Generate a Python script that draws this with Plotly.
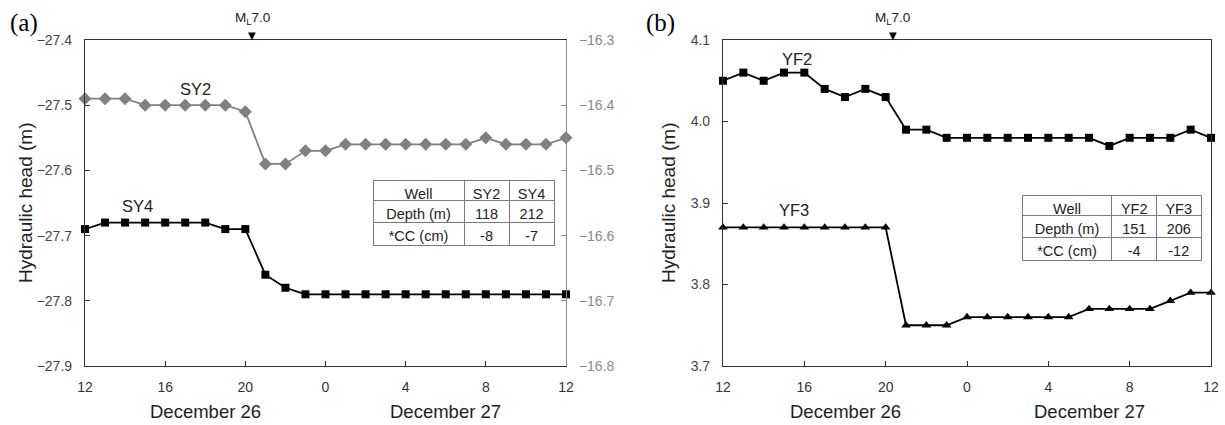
import plotly.graph_objects as go

# ---------------- data ----------------
hours = list(range(25))  # hours since 12:00 on December 26
tick_vals = [0, 4, 8, 12, 16, 20, 24]
tick_text = ["12", "16", "20", "0", "4", "8", "12"]
quake_hour = 8.35  # ML 7.0 at ~20:20

sy2 = [-16.39, -16.39, -16.39, -16.40, -16.40, -16.40, -16.40, -16.40, -16.41,
       -16.49, -16.49, -16.47, -16.47, -16.46, -16.46, -16.46, -16.46, -16.46,
       -16.46, -16.46, -16.45, -16.46, -16.46, -16.46, -16.45]
sy4 = [-27.69, -27.68, -27.68, -27.68, -27.68, -27.68, -27.68, -27.69, -27.69,
       -27.76, -27.78, -27.79, -27.79, -27.79, -27.79, -27.79, -27.79, -27.79,
       -27.79, -27.79, -27.79, -27.79, -27.79, -27.79, -27.79]
yf2 = [4.05, 4.06, 4.05, 4.06, 4.06, 4.04, 4.03, 4.04, 4.03, 3.99, 3.99, 3.98,
       3.98, 3.98, 3.98, 3.98, 3.98, 3.98, 3.98, 3.97, 3.98, 3.98, 3.98, 3.99, 3.98]
yf3 = [3.87, 3.87, 3.87, 3.87, 3.87, 3.87, 3.87, 3.87, 3.87, 3.75, 3.75, 3.75,
       3.76, 3.76, 3.76, 3.76, 3.76, 3.76, 3.77, 3.77, 3.77, 3.77, 3.78, 3.79, 3.79]

left_ticks_a = [-27.9, -27.8, -27.7, -27.6, -27.5, -27.4]
right_ticks_a = [-16.8, -16.7, -16.6, -16.5, -16.4, -16.3]
ticks_b = [3.7, 3.8, 3.9, 4.0, 4.1]

table_a_header = ["Well", "SY2", "SY4"]
table_a_cells = [["Depth (m)", "*CC (cm)"], ["118", "-8"], ["212", "-7"]]
table_b_header = ["Well", "YF2", "YF3"]
table_b_cells = [["Depth (m)", "*CC (cm)"], ["151", "-4"], ["206", "-12"]]

# ---------------- layout helpers ----------------
W, H = 1225, 425
FONT = "Liberation Sans, Arial, sans-serif"
SERIF = "Liberation Serif, Times New Roman, serif"
def px_x(p): return p / W
def px_y(p): return 1 - p / H

y_dom = [px_y(366), px_y(40)]
xa_dom = [px_x(85), px_x(566)]
xb_dom = [px_x(723), px_x(1211)]

fig = go.Figure()

fig.add_trace(go.Scatter(x=hours, y=sy2, xaxis="x", yaxis="y2", mode="lines+markers",
                         line=dict(color="#808080", width=1.8),
                         marker=dict(symbol="diamond", size=10, color="#808080"),
                         cliponaxis=False, showlegend=False))
fig.add_trace(go.Scatter(x=hours, y=sy4, xaxis="x", yaxis="y", mode="lines+markers",
                         line=dict(color="black", width=1.8),
                         marker=dict(symbol="square", size=8, color="black"),
                         cliponaxis=False, showlegend=False))
fig.add_trace(go.Scatter(x=hours, y=yf2, xaxis="x2", yaxis="y3", mode="lines+markers",
                         line=dict(color="black", width=1.8),
                         marker=dict(symbol="square", size=8, color="black"),
                         cliponaxis=False, showlegend=False))
fig.add_trace(go.Scatter(x=hours, y=yf3, xaxis="x2", yaxis="y3", mode="lines+markers",
                         line=dict(color="black", width=1.8),
                         marker=dict(symbol="triangle-up", size=8.5, color="black"),
                         cliponaxis=False, showlegend=False))

def tbl(header, cells, x0, x1, y0, y1):
    return go.Table(
        domain=dict(x=[px_x(x0), px_x(x1)], y=[px_y(y1), px_y(y0)]),
        columnwidth=[91, 45, 45],
        header=dict(values=header, height=20, fill_color="white",
                    line=dict(color="#7a7a7a", width=1), align="center",
                    font=dict(family=FONT, size=14.5, color="#222")),
        cells=dict(values=cells, height=22.5, fill_color="white",
                   line=dict(color="#7a7a7a", width=1), align="center",
                   font=dict(family=FONT, size=14.5, color="#222")),
    )

fig.add_trace(tbl(table_a_header, table_a_cells, 373, 554, 180, 252))
fig.add_trace(tbl(table_b_header, table_b_cells, 1022, 1202, 195, 267))

xcommon = dict(range=[0, 24], tickvals=tick_vals, ticktext=tick_text, ticks="inside",
               ticklen=5, tickcolor="#333", showline=True, linecolor="#333", linewidth=1.2,
               mirror=True, showgrid=False, zeroline=False, ticklabelstandoff=8,
               automargin=False, tickfont=dict(family=FONT, size=14, color="#333"))
ycommon = dict(ticks="inside", ticklen=5, showline=True, linewidth=1.2, showgrid=False,
               zeroline=False, tickformat=".1f", ticklabelstandoff=9, automargin=False)

fig.update_layout(
    width=W, height=H, margin=dict(l=0, r=0, t=0, b=0, pad=0, autoexpand=False),
    paper_bgcolor="white", plot_bgcolor="white",
    font=dict(family=FONT),
    xaxis=dict(domain=xa_dom, anchor="y", **xcommon),
    yaxis=dict(domain=y_dom, anchor="x", range=[-27.9, -27.4], tickvals=left_ticks_a,
               linecolor="#333", tickcolor="#333",
               tickfont=dict(family=FONT, size=14, color="#444"), **ycommon),
    yaxis2=dict(overlaying="y", side="right", anchor="x", range=[-16.8, -16.3],
                tickvals=right_ticks_a, linecolor="#8a8a8a", tickcolor="#8a8a8a",
                tickfont=dict(family=FONT, size=14, color="#8a8a8a"), **ycommon),
    xaxis2=dict(domain=xb_dom, anchor="y3", **xcommon),
    yaxis3=dict(domain=y_dom, anchor="x2", range=[3.7, 4.1], tickvals=ticks_b,
                linecolor="#333", tickcolor="#333", mirror=True,
                tickfont=dict(family=FONT, size=14, color="#444"), **ycommon),
)

ann = []
# panel letters
ann.append(dict(text="(a)", x=px_x(8), y=px_y(23), xref="paper", yref="paper",
                xanchor="left", yanchor="middle", showarrow=False,
                font=dict(family=SERIF, size=25, color="black")))
ann.append(dict(text="(b)", x=px_x(644), y=px_y(23), xref="paper", yref="paper",
                xanchor="left", yanchor="middle", showarrow=False,
                font=dict(family=SERIF, size=25, color="black")))
for xr, yr, top in (("x", "y", -27.4), ("x2", "y3", 4.1)):
    ann.append(dict(text="M<sub>L</sub>7.0", x=quake_hour, xref=xr, y=px_y(18), yref="paper",
                    showarrow=False, xanchor="center", yanchor="middle",
                    font=dict(family=FONT, size=13.5, color="#222")))
    ann.append(dict(text="▼", x=quake_hour, xref=xr, y=top, yref=yr, showarrow=False,
                    xanchor="center", yanchor="bottom", yshift=-3,
                    font=dict(family="DejaVu Sans", size=10, color="black")))
    ann.append(dict(text="December 26", x=6, xref=xr, y=px_y(411), yref="paper",
                    yanchor="middle", showarrow=False,
                    font=dict(family=FONT, size=18.5, color="#222")))
    ann.append(dict(text="December 27", x=18, xref=xr, y=px_y(411), yref="paper",
                    yanchor="middle", showarrow=False,
                    font=dict(family=FONT, size=18.5, color="#222")))
for xp in (25, 668):
    ann.append(dict(text="Hydraulic head (m)", x=px_x(xp), y=px_y(203), xref="paper",
                    yref="paper", textangle=-90, showarrow=False,
                    xanchor="center", yanchor="middle",
                    font=dict(family=FONT, size=19, color="#222")))
# series labels
for txt, xv, yv, xr, yr in (("SY2", 5.5, -27.475, "x", "y"), ("SY4", 2.6, -27.655, "x", "y"),
                            ("YF2", 3.65, 4.077, "x2", "y3"), ("YF3", 3.5, 3.891, "x2", "y3")):
    ann.append(dict(text=txt, x=xv, y=yv, xref=xr, yref=yr, showarrow=False,
                    xanchor="center", yanchor="middle",
                    font=dict(family=FONT, size=16.5, color="#222")))
fig.update_layout(annotations=ann)

fig.write_html("out.html")
